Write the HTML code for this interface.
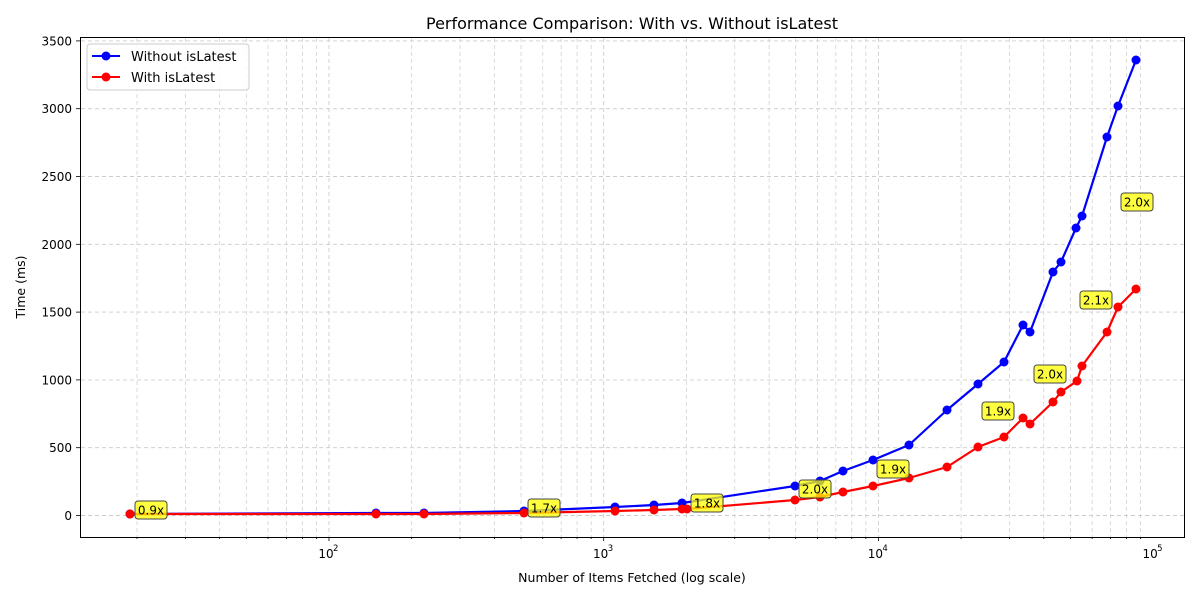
<!DOCTYPE html>
<html><head><meta charset="utf-8"><style>
body{margin:0;background:#fff;}
svg{display:block;font-family:"DejaVu Sans","Liberation Sans",sans-serif;}
</style></head><body>
<svg id="s" width="1200" height="600" xmlns="http://www.w3.org/2000/svg">
<rect width="1200" height="600" fill="#fff"/>
<g id="grid"></g>
<g id="series"></g>
<g id="ann"></g>
<rect x="80.5" y="37.5" width="1104" height="500" fill="none" stroke="#000" stroke-width="1"/>
<g id="ticks"></g>
<text x="632" y="29" text-anchor="middle" font-size="16">Performance Comparison: With vs. Without isLatest</text>
<text x="632" y="582" text-anchor="middle" font-size="12.5">Number of Items Fetched (log scale)</text>
<text transform="translate(25,287) rotate(-90)" text-anchor="middle" font-size="12.5">Time (ms)</text>
<g>
<rect x="87" y="44" width="162" height="46" rx="3" fill="#fff" fill-opacity="0.8" stroke="#ccc"/>
<line x1="92" y1="56" x2="120" y2="56" stroke="#00f" stroke-width="2"/><circle cx="106" cy="56" r="4.5" fill="#00f"/>
<text x="131" y="61" font-size="13">Without isLatest</text>
<line x1="92" y1="77" x2="120" y2="77" stroke="#f00" stroke-width="2"/><circle cx="106" cy="77" r="4.5" fill="#f00"/>
<text x="131" y="82" font-size="13">With isLatest</text>
</g>
</svg>
<script>
const NS="http://www.w3.org/2000/svg";
function el(p,t,a,txt){const e=document.createElementNS(NS,t);for(const k in a)e.setAttribute(k,a[k]);if(txt)e.textContent=txt;document.getElementById(p).appendChild(e);}
const x0=54.3,dec=274.7;
function X(v){return x0+(Math.log10(v)-1)*dec;}
for(let d=1;d<=4;d++)for(let k=1;k<10;k++){const x=X(k*Math.pow(10,d));if(x<81||x>1184)continue;
 el("grid","line",{x1:x,y1:38,x2:x,y2:537,stroke:"#ccc","stroke-width":k==1?0.9:0.7,"stroke-dasharray":"4,3"});
 el("ticks","line",{x1:x,y1:537,x2:x,y2:k==1?541:539,stroke:"#000","stroke-width":0.8});}
[2,3,4,5].forEach(d=>{const x=X(Math.pow(10,d));
 el("ticks","text",{x:x-3,y:558,"text-anchor":"middle","font-size":"12"},"10");
 el("ticks","text",{x:x+4,y:551,"text-anchor":"start","font-size":"8.5"},String(d));});
function Y(v){return 515.5-v*0.1356;}
for(let v=0;v<=3500;v+=500){const y=Y(v);
 el("grid","line",{x1:81,y1:y,x2:1184,y2:y,stroke:"#ccc","stroke-width":0.9,"stroke-dasharray":"4,3"});
 el("ticks","line",{x1:76,y1:y,x2:80,y2:y,stroke:"#000","stroke-width":0.8});
 el("ticks","text",{x:72,y:y+4.5,"text-anchor":"end","font-size":"12"},String(v));}
const blue=[[130,514],[376,513],[424,513],[524,511],[615,507],[654,505],[682,503],[795,486],[820,481],[843,471],[873,460],[909,445],[947,410],[978,384],[1004,362],[1023,325],[1030,332],[1053,272],[1061,262],[1076,228],[1082,216],[1107,137],[1118,106],[1136,60]];
const red=[[130,514],[376,514],[424,514],[524,513],[615,511],[654,510],[682,509],[687,509],[795,500],[820,497],[843,492],[873,486],[909,478],[947,467],[978,447],[1004,437],[1023,418],[1030,424],[1053,402],[1061,392],[1077,381],[1082,366],[1107,332],[1118,307],[1136,289]];
[[blue,"#00f"],[red,"#f00"]].forEach(([d,c])=>{
 el("series","polyline",{points:d.map(p=>p.join(",")).join(" "),fill:"none",stroke:c,"stroke-width":2.2,"stroke-linejoin":"round"});
 d.forEach(p=>el("series","circle",{cx:p[0],cy:p[1],r:4.5,fill:c}));});
const ann=[[151,510,"0.9x"],[544,508,"1.7x"],[707,503,"1.8x"],[815,489,"2.0x"],[893,469,"1.9x"],[998,411,"1.9x"],[1050,374,"2.0x"],[1096,300,"2.1x"],[1137,202,"2.0x"]];
ann.forEach(([x,y,t])=>{
 el("ann","rect",{x:x-16,y:y-9,width:32,height:18,rx:3,fill:"#ffff00","fill-opacity":0.75,stroke:"#444","stroke-width":1});
 el("ann","text",{x:x,y:y+4.5,"text-anchor":"middle","font-size":"12"},t);});
</script>
</body></html>
